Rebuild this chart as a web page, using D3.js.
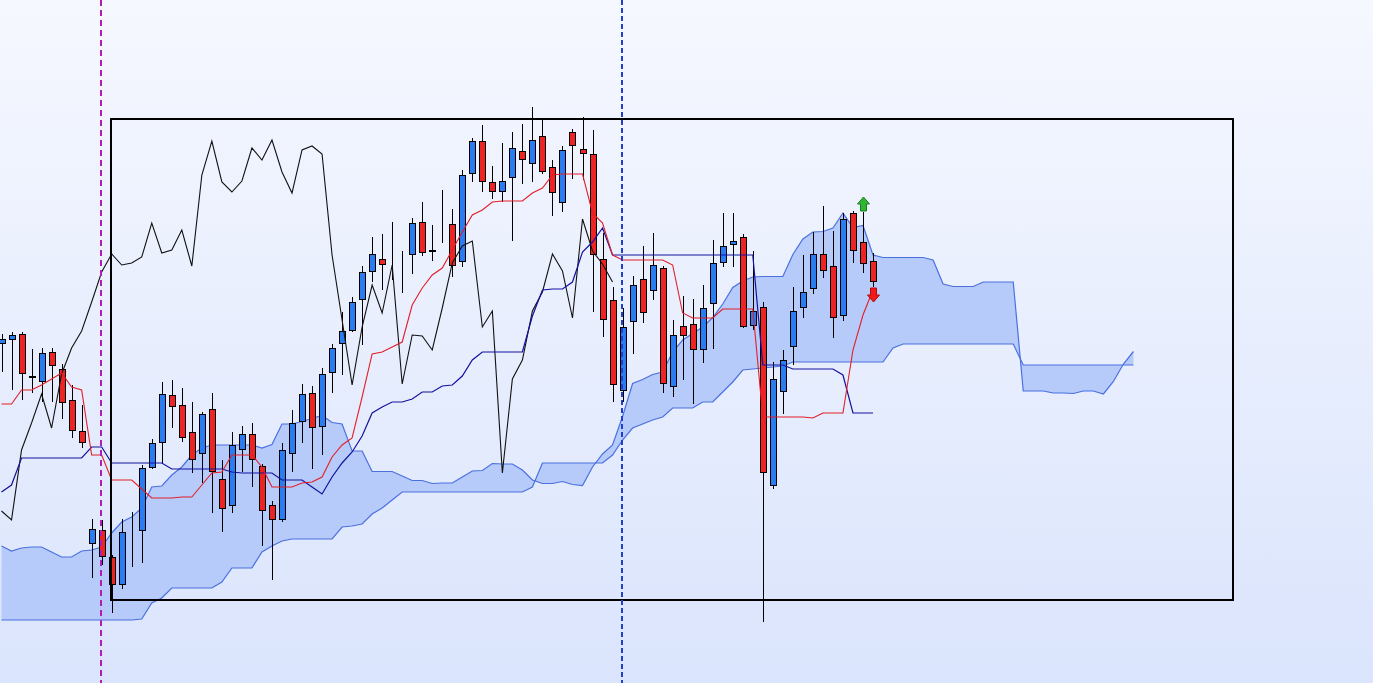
<!DOCTYPE html>
<html>
<head>
<meta charset="utf-8">
<script src="https://cdn.jsdelivr.net/npm/d3@7"></script>
<style>
  html, body { margin: 0; padding: 0; overflow: hidden; background: #eef2fd; }
  svg { display: block; }
</style>
</head>
<body>
<svg id="chart" width="1373" height="683"></svg>
<script>
// ---------- DATA (price units, arbitrary) ----------
const opens  = [656,660,666,624,618,648,631,600,569,456, 470,443,415,469,469,532,557,605,595,568,
                546,591,521,494,550,566,534,495,480,546, 578,607,573,627,656,669,700,728,741,736,
                743,745,778,748,770,776,738,826,859,818, 808,822,849,836,864,833,797,868,851,846,
                741,700,609,678,721,709,732,613,674,676, 650,696,737,755,763,674,693,514,608,653,
                692,711,746,734,684,787,758,739];
const highs  = [666,668,668,651,652,652,636,615,595,481, 480,445,481,488,535,561,618,620,612,598,
                588,607,540,568,574,577,536,499,557,590, 616,614,632,656,688,703,734,763,766,778,
                749,782,798,775,810,791,830,862,875,834, 857,868,876,893,881,840,854,871,883,870,
                767,713,692,724,754,767,734,680,704,701, 715,760,787,787,766,749,698,638,650,713,
                745,768,794,769,787,789,788,747];
const lows   = [628,610,600,607,598,598,581,562,552,422, 435,387,411,433,437,531,537,572,558,527,
                517,487,468,487,528,513,454,420,478,528, 557,531,545,607,625,668,655,718,710,720,
                707,726,744,739,757,723,733,818,808,801, 798,759,816,818,826,784,788,821,820,688,
                663,598,598,646,677,700,607,603,620,596, 637,651,733,733,672,670,378,511,586,635,
                682,706,722,662,679,737,727,713];
const closes = [661,665,626,622,647,634,597,569,557,471, 443,415,468,470,532,557,606,593,562,540,
                586,528,491,555,566,540,489,480,550,577, 606,572,626,652,669,698,728,746,735,737,
                743,777,747,750,770,734,825,859,818,808, 819,852,840,860,828,807,850,854,846,745,
                680,615,673,715,687,735,616,665,664,650, 692,737,754,759,673,689,527,621,640,689,
                708,746,729,682,781,749,736,718];

// Tenkan-sen (conversion line), one value per candle
const tenkan = [596,596,610,610,615,621,627,613,610,545, 545,520,520,520,511,502,502,502,503,503,
                515,527,528,545,545,545,533,513,513,513, 517,518,523,543,555,562,603,646,648,653,
                658,695,712,725,732,750,768,785,790,798, 799,799,799,807,812,825,826,826,826,787,
                777,745,740,740,740,740,740,735,687,682, 682,682,691,691,691,691,583,583,583,583,
                583,582,587,587,587,650,685,710];
// Kijun-sen (base line)
const kijun  = [508,515,542,542,542,542,542,542,542,553, 553,537,537,537,537,537,537,531,531,531,
                531,531,531,528,527,527,527,527,520,520, 520,513,506,523,537,548,564,587,593,598,
                598,601,608,608,614,615,624,640,648,648, 648,648,648,684,710,711,711,718,748,758,
                772,745,745,745,745,745,745,745,745,745, 745,745,745,745,745,745,635,635,635,631,
                631,631,631,631,625,587,587,587];
// Senkou span A (leading, runs 26 bars past the last candle)
const senkouA = [454,449,452,453,453,448,443,443,449,450, 453,467,478,483,492,513,514,525,533,545,
                 552,555,555,555,555,555,552,555.5,576,576, 578.5,581.5,584.5,577.5,576,549,549,528.5,528.5,528.5,
                 524,519.5,519.5,516.5,517,517,523,529,529.5,536.5, 536,536,530,520,516.5,516.5,518.5,515.5,514.5,533,
                 546,555,583.5,616.5,620.5,625.5,628,648,660,666.5, 673,682.5,696,712.5,719,723,723.5,723.5,723.5,745.5,
                 761,768,768.5,772,787,772.5,774.5,745,742.5,742.5, 742.5,742.5,742.5,740,716,713.5,713.5,713.5,718,718,
                 718,718,609,609,609,607,607,606.5,609,609, 606,618.5,636,648.5];
// Senkou span B
const senkouB = [380,380,380,380,380,380,380,380,380,380, 380,380,380,380,381,397,402,412,412,412,
                 412,412,418,432,432,432,448,454,459,461, 461,461,461,461,473,474,476,486,492,500,
                 508,508,508,508,508,508,508,508,508,508, 508,508,508,513,537,537,537,537,537,537,
                 537,545,560,572,576,580,583,592,592,592, 598,598,608,618,630,631,632,633,634,638,
                 638,638,638,638,638,638,638,638,638,652, 656,656,656,656,656,656,656,656,656,656,
                 656,656,635,635,635,635,635,635,635,635, 635,635,635,635];
// Chikou span: the close plotted 26 bars back
const chikouShift = 26;
// Signal arrows (candle indices)
const signalsUp = [86];
const signalsDown = [87];
// Vertical markers (candle indices)
const markerMagenta = 10;
const markerBlue = 62;

// ---------- LAYOUT ----------
const W = 1373, H = 683;
const svg = d3.select("#chart");
const x = d3.scaleLinear().domain([0, 87]).range([1.5, 873]);
const y = d3.scaleLinear().domain([320, 920]).range([680, 80]);

// background gradient
const defs = svg.append("defs");
const grad = defs.append("linearGradient").attr("id", "bg").attr("x1", 0).attr("y1", 0).attr("x2", 0).attr("y2", 1);
grad.append("stop").attr("offset", "0%").attr("stop-color", "#f6f8ff");
grad.append("stop").attr("offset", "100%").attr("stop-color", "#dae4fc");
svg.append("rect").attr("width", W).attr("height", H).attr("fill", "url(#bg)");

// cloud
const cloudIdx = d3.range(senkouA.length);
svg.append("path")
  .datum(cloudIdx)
  .attr("fill", "#b6cbfa")
  .attr("d", d3.area().x(i => x(i)).y0(i => y(senkouA[i])).y1(i => y(senkouB[i])));
const lineOf = arr => d3.line().x((d, i) => x(i)).y(d => y(d));
svg.append("path").datum(senkouA).attr("fill", "none").attr("stroke", "#4a70e0").attr("stroke-width", 1.2).attr("d", lineOf(senkouA));
svg.append("path").datum(senkouB).attr("fill", "none").attr("stroke", "#4a70e0").attr("stroke-width", 1.2).attr("d", lineOf(senkouB));

// candles
const cg = svg.append("g");
closes.forEach((c, i) => {
  const o = opens[i];
  const cx = Math.round(x(i));
  cg.append("line")
    .attr("x1", cx + 0.5).attr("x2", cx + 0.5)
    .attr("y1", Math.round(y(highs[i]))).attr("y2", Math.round(y(lows[i])))
    .attr("stroke", "#000").attr("stroke-width", 1);
  const top = Math.round(y(Math.max(o, c)));
  const bot = Math.round(y(Math.min(o, c)));
  cg.append("rect")
    .attr("x", cx - 2.5).attr("width", 6)
    .attr("y", top + 0.5).attr("height", Math.max(0, bot - top - 1))
    .attr("fill", c >= o ? "#2a7cf0" : "#ec2424")
    .attr("stroke", "#000").attr("stroke-width", 1);
});

// chikou / tenkan / kijun
const chikou = closes.slice(chikouShift);
svg.append("path").attr("fill", "none").attr("stroke", "#111").attr("stroke-width", 1.1).attr("d", lineOf(chikou)(chikou));
svg.append("path").attr("fill", "none").attr("stroke", "#12129e").attr("stroke-width", 1.2).attr("d", lineOf(kijun)(kijun));
svg.append("path").attr("fill", "none").attr("stroke", "#e41e26").attr("stroke-width", 1.1).attr("d", lineOf(tenkan)(tenkan));

// signal arrows
signalsUp.forEach(i => {
  const cx = Math.round(x(i)) + 0.5;
  const b = Math.round(y(highs[i])) - 1;
  svg.append("path")
    .attr("d", `M${cx-3},${b} L${cx-3},${b-7} L${cx-6},${b-7} L${cx},${b-14} L${cx+6},${b-7} L${cx+3},${b-7} L${cx+3},${b} Z`)
    .attr("fill", "#2fb52f").attr("stroke", "#1d7d1d").attr("stroke-width", 1);
});
signalsDown.forEach(i => {
  const cx = Math.round(x(i)) + 0.5;
  const t = Math.round(y(lows[i])) + 1;
  svg.append("path")
    .attr("d", `M${cx-3},${t} L${cx-3},${t+7} L${cx-6},${t+7} L${cx},${t+14} L${cx+6},${t+7} L${cx+3},${t+7} L${cx+3},${t} Z`)
    .attr("fill", "#f01818").attr("stroke", "#b00c0c").attr("stroke-width", 1);
});

// frame rectangle
svg.append("rect")
  .attr("x", 111).attr("y", 119).attr("width", 1122).attr("height", 481)
  .attr("fill", "none").attr("stroke", "#000").attr("stroke-width", 2);

// vertical dashed markers
svg.append("line")
  .attr("x1", Math.floor(x(markerMagenta))).attr("x2", Math.floor(x(markerMagenta)))
  .attr("y1", 0).attr("y2", H)
  .attr("stroke", "#b01cb4").attr("stroke-width", 2).attr("stroke-dasharray", "6,4");
svg.append("line")
  .attr("x1", Math.floor(x(markerBlue))).attr("x2", Math.floor(x(markerBlue)))
  .attr("y1", 0).attr("y2", H)
  .attr("stroke", "#1f3fcc").attr("stroke-width", 2).attr("stroke-dasharray", "5,3");
</script>
</body>
</html>
